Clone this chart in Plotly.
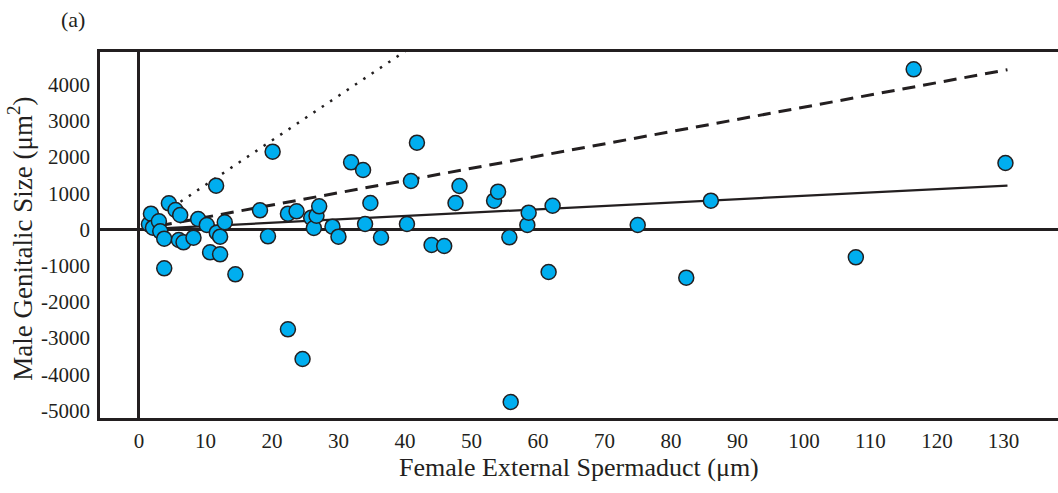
import plotly.graph_objects as go

# Data
spermaduct_um = [1.5, 1.8, 2.1, 3.0, 3.2, 3.8, 3.8, 4.5, 5.5, 6.2, 6.0, 6.7, 8.2, 8.9,
                 10.2, 10.7, 11.6, 11.7, 12.2, 12.2, 12.9, 14.5, 18.2, 19.4, 20.1,
                 22.4, 22.4, 23.7, 24.6, 25.9, 26.3, 26.7, 27.1, 29.1, 30.0, 31.9,
                 33.7, 34.0, 34.8, 36.4, 40.3, 40.9, 41.8, 44.0, 45.9, 47.6, 48.2,
                 53.4, 54.0, 55.7, 55.9, 58.4, 58.6, 61.6, 62.2, 75.0, 82.3, 86.0,
                 107.8, 116.5, 130.3]
genitalic_size = [143, 437, 50, 226, -50, -254, -1072, 723, 538, 400, -290, -354, -226, 290,
                  124, -630, 1210, -88, -199, -685, 199, -1238, 530, -189, 2149,
                  437, -2757, 502, -3577, 327, 41, 381, 640, 78, -198, 1856,
                  1644, 152, 732, -220, 152, 1340, 2398, -428, -456, 732, 1202,
                  796, 1045, -216, -4765, 124, 464, -1174, 657, 124, -1331, 796,
                  -768, 4425, 1837]

# Fitted lines (x endpoints, slopes)
solid_x = [1.0, 130.6]
solid_slope = 9.3
dashed_x = [3.0, 130.6]
dashed_slope = 33.8
dotted_x = [5.0, 45.0]
dotted_slope = 123.0

x_ticks = [0, 10, 20, 30, 40, 50, 60, 70, 80, 90, 100, 110, 120, 130]
y_ticks = [4000, 3000, 2000, 1000, 0, -1000, -2000, -3000, -4000, -5000]
y_ticktext = ["4000", "3000", "2000", "1000", "0", "-1000", "-2000", "-3000", "-4000", "-5000"]

INK = "#231f20"
FONT = "Liberation Serif"

fig = go.Figure()

fig.add_trace(go.Scatter(x=dotted_x, y=[v * dotted_slope for v in dotted_x], mode="lines",
                         line=dict(color=INK, width=2.5, dash="2.5px,7.5px"), hoverinfo="skip"))
fig.add_trace(go.Scatter(x=dashed_x, y=[v * dashed_slope for v in dashed_x], mode="lines",
                         line=dict(color=INK, width=3, dash="13px,8px"), hoverinfo="skip"))
fig.add_trace(go.Scatter(x=solid_x, y=[v * solid_slope for v in solid_x], mode="lines",
                         line=dict(color=INK, width=2.2), hoverinfo="skip"))
fig.add_trace(go.Scatter(x=spermaduct_um, y=genitalic_size, mode="markers",
                         marker=dict(size=15, color="#00aeef", line=dict(color=INK, width=1.5)),
                         cliponaxis=False))

fig.update_layout(
    width=1058, height=493,
    margin=dict(l=100, r=0, t=52, b=75),
    plot_bgcolor="white", paper_bgcolor="white",
    showlegend=False,
    font=dict(family=FONT, color=INK, size=21),
    xaxis=dict(range=[-5.86, 138.2], tickvals=x_ticks, showgrid=False,
               showline=True, linecolor=INK, linewidth=2.5, mirror=True,
               zeroline=True, zerolinecolor=INK, zerolinewidth=2.5,
               ticks="", ticklen=0, ticklabelstandoff=2,
               tickfont=dict(size=21, family=FONT, color=INK)),
    yaxis=dict(range=[-5207, 4903], tickvals=y_ticks, ticktext=y_ticktext, showgrid=False,
               showline=True, linecolor=INK, linewidth=2.5, mirror=False,
               zeroline=True, zerolinecolor=INK, zerolinewidth=2.5,
               ticks="", ticklen=0, ticklabelstandoff=3,
               tickfont=dict(size=21, family=FONT, color=INK)),
    annotations=[
        dict(text="(a)", x=(73 - 100) / 958, y=1 + (52 - 20) / 366, xref="paper", yref="paper",
             showarrow=False, xanchor="center", yanchor="middle",
             font=dict(size=22, family=FONT, color=INK)),
        dict(text="Male Genitalic Size (μm<sup>2</sup>)", x=(20 - 100) / 958, y=0.49,
             xref="paper", yref="paper", textangle=-90, showarrow=False,
             xanchor="center", yanchor="middle", font=dict(size=27, family=FONT, color=INK)),
        dict(text="Female External Spermaduct (μm)", x=0.5, y=(418 - 467) / 366,
             xref="paper", yref="paper", showarrow=False,
             xanchor="center", yanchor="middle", font=dict(size=26, family=FONT, color=INK)),
    ],
)

fig.write_html("out.html")
